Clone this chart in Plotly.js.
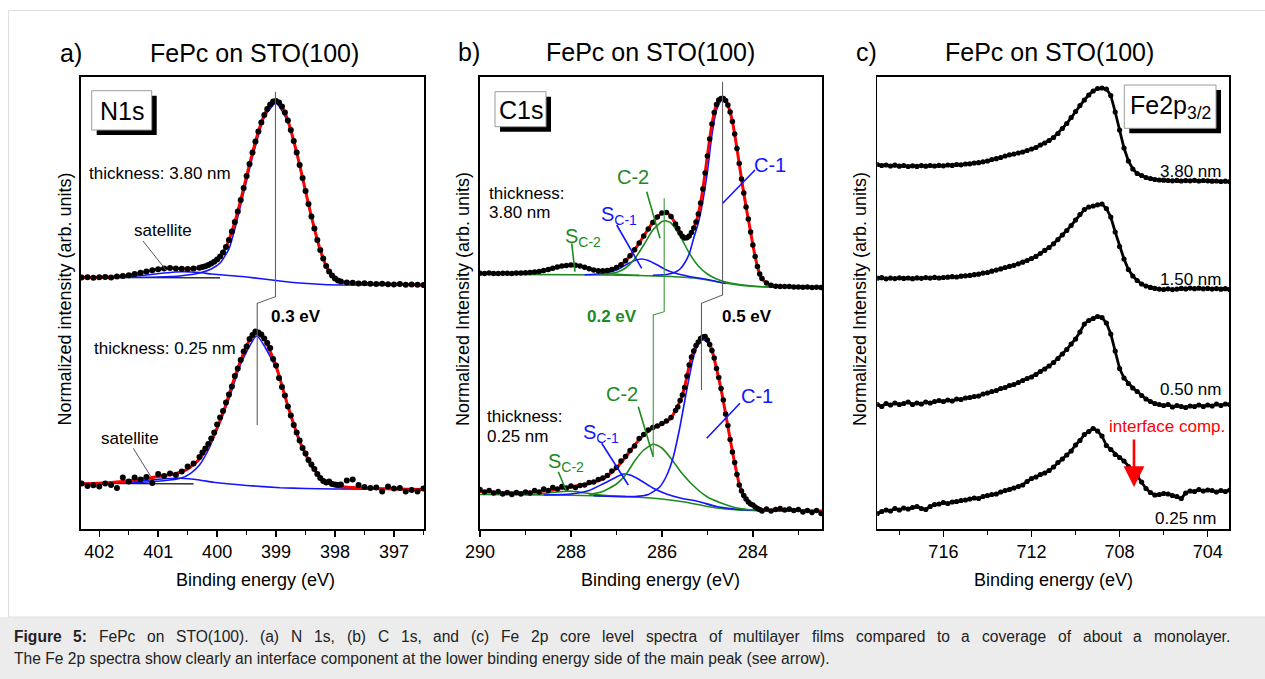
<!DOCTYPE html>
<html><head><meta charset="utf-8">
<script src="https://cdn.plot.ly/plotly-3.0.1.min.js"></script>
<style>html,body{margin:0;padding:0;background:#fff;}#chart{width:1265px;height:679px;}</style>
</head><body><div id="chart"></div>
<script>
// ---------- Panel a: N1s ----------
const xA=[402.3,402.2,402.1,402.0,401.9,401.8,401.7,401.6,401.5,401.4,401.3,401.2,401.1,401.0,400.9,400.8,400.7,400.6,400.5,400.4,400.3,
400.25,400.2,400.15,400.1,400.05,400.0,399.95,399.9,399.85,399.8,399.75,399.7,399.65,399.6,399.55,399.5,399.45,399.4,399.35,399.3,399.25,399.2,399.15,399.1,399.05,399.0,398.95,398.9,398.85,398.8,398.75,398.7,398.65,398.6,398.55,398.5,398.45,398.4,398.35,398.3,398.25,398.2,398.15,398.1,398.05,398.0,397.95,397.9,
397.8,397.7,397.6,397.5,397.4,397.3,397.2,397.1,397.0,396.9,396.8,396.7,396.6,396.5];
const n1s380=[251.5,251.8,251.3,251.7,252.0,251.6,252.4,253.0,253.8,255.0,256.3,257.5,258.8,259.7,260.5,260.9,260.6,260.3,260.1,260.4,261.3,
262.0,262.8,264.0,265.5,267.2,269.5,272.5,276.5,282.0,289.0,297.5,307.0,317.5,329.0,341.0,353.0,365.0,376.5,387.5,397.5,406.5,414.0,420.0,424.5,427.5,428.0,426.5,422.5,416.5,408.5,399.0,388.0,376.5,364.0,351.0,338.0,325.0,312.5,300.5,289.0,279.0,270.5,263.0,257.5,253.5,250.5,248.5,247.5,
246.5,246.2,245.6,245.8,245.2,245.0,245.3,244.8,244.6,244.9,244.3,244.5,244.2,244.0];
const n1s025=[45.5,43.0,43.8,42.5,45.5,44.0,41.0,51.5,47.5,51.5,49.5,52.0,46.0,55.0,53.0,55.5,54.0,57.5,62.5,65.5,72.0,
76.5,80.5,85.0,90.5,96.5,104.5,111.5,118.0,126.5,134.5,142.5,153.0,160.5,169.0,177.5,182.5,190.0,194.0,197.5,196.5,194.5,190.5,186.0,181.0,170.0,163.5,151.0,142.0,133.5,122.5,113.5,104.0,96.5,88.5,81.0,75.5,69.0,64.5,60.0,55.0,51.0,48.0,46.5,47.5,45.0,44.5,44.0,44.5,
48.5,49.5,44.0,42.0,41.0,41.5,37.5,42.5,40.5,41.0,37.5,39.0,37.5,40.5];
const bgA380x=[402.31,399.95], bgA380y=[251.5,251.2];
const satA380x=[402.31,401.6,401.2,400.9,400.6,400.3,400.1,399.8,399.5,399.0,398.6,398.2,397.8,396.49];
const satA380y=[251.5,252,254,256,257.3,256.5,255,253.5,252,248.5,246,244.5,244,244];
const mainA380x=[402.31,401.0,400.6,400.3,400.1,399.95,399.8,399.7,399.6,399.4,399.2,399.0,398.8,398.6,398.4,398.2,398.0,397.8,396.49];
const mainA380y=[251.5,252,253.3,256,260,266,280,300,324,372,412,426,407,363,311,269,249.5,245.5,244];
const bgA025x=[402.31,400.4], bgA025y=[45.5,45.2];
const satA025x=[402.31,401.73,401.3,401.0,400.62,400.3,400.06,399.5,398.93,398.5,398.02,396.49];
const satA025y=[45.5,45.7,48,49.7,50.7,49,46.7,43.5,41.3,40.5,40,39.7];
const mainA025x=[402.31,401.7,400.91,400.62,400.45,400.3,400.15,400.0,399.8,399.6,399.33,399.0,398.6,398.2,397.9,396.49];
const mainA025y=[45.5,45.7,48.3,50.7,55.7,64,79,100,130,165,193,161,87,48,41.5,39.7];
const fitA025x=[402.31,401.8,401.4,401.0,400.7,400.5,400.3,400.1,399.9,399.7,399.5,399.4,399.33,399.2,399.0,398.8,398.6,398.4,398.2,398.0,397.7,397.0,396.49];
const fitA025y=[45,46.5,49,52.5,55.5,60,70,88,116,152,183,193,195.5,190,163,123,88,63,49,43,41.5,40,39.5];
const peakN1s=[399.01,399.32];

// ---------- Panel b: C1s ----------
const xB=[290.0,289.9,289.8,289.7,289.6,289.5,289.4,289.3,289.2,289.1,289.0,288.9,288.8,288.7,288.6,288.5,288.4,288.3,288.2,288.1,288.0,287.9,287.8,287.7,287.6,287.5,287.4,287.3,287.2,287.1,287.0,286.9,286.8,286.7,286.6,286.5,286.4,286.3,286.2,286.1,286.0,285.9,285.8,285.7,
285.65,285.6,285.55,285.5,285.45,285.4,285.35,285.3,285.25,285.2,285.15,285.1,285.05,285.0,284.95,284.9,284.85,284.8,284.75,284.7,284.65,284.6,284.55,284.5,284.45,284.4,284.35,284.3,284.25,284.2,284.15,284.1,284.05,284.0,283.95,283.9,283.85,283.8,
283.7,283.6,283.5,283.4,283.3,283.2,283.1,283.0,282.9,282.8,282.7,282.6,282.5];
const c1s380=[255.7,255.5,255.9,255.6,255.4,255.8,255.7,255.5,255.9,256.0,256.2,256.5,256.9,257.5,258.4,259.5,260.8,262.0,263.0,263.6,263.9,263.8,263.0,261.8,260.3,259.0,258.3,258.2,258.6,259.6,261.5,264.3,268.2,273.2,279.3,286.0,293.0,300.0,306.5,312.0,316.0,316.5,312.5,305.0,
300.5,296.0,292.8,291.0,291.2,293.0,296.5,301.0,307.0,315.0,326.0,340.0,356.0,373.0,390.0,405.0,416.5,424.5,429.0,430.5,430.5,428.5,424.0,417.0,407.5,395.0,380.5,365.5,350.0,336.0,322.0,310.0,297.0,284.0,272.5,262.5,255.0,250.5,
246.0,243.8,242.8,242.6,242.4,242.5,242.0,242.1,241.8,241.9,241.6,241.8,241.5];
const c1s025=[39.5,37.0,38.5,36.0,37.5,35.0,36.5,34.5,36.5,35.0,37.0,36.0,38.5,37.0,40.0,38.5,41.5,40.0,42.5,41.0,43.0,41.5,43.5,44.0,46.5,47.0,49.5,51.0,53.5,58.0,61.5,68.0,72.5,78.5,83.0,90.5,94.5,99.0,101.5,103.0,105.5,108.0,111.5,118.5,
122.0,128.5,134.0,141.5,153.0,164.0,172.0,178.0,183.5,187.0,190.5,192.0,192.5,189.0,184.5,178.5,171.0,160.5,151.5,140.5,129.0,115.0,103.5,89.5,77.0,66.5,54.5,44.0,38.0,33.5,30.0,27.0,25.0,24.0,22.0,20.5,19.5,18.0,
20.0,18.0,19.5,20.5,19.0,20.0,18.5,19.5,17.0,18.5,16.5,18.5,15.5];
const bgB380x=[290.0,288.0,286.5,285.8,285.3,285.0,284.7,284.4,284.1,283.8,283.5,282.48];
const bgB380y=[254.7,254.3,253.5,252.5,251,249,246.5,244.5,243,242.2,241.8,241.6];
const sc2B380x=[289.4,289.0,288.7,288.4,288.2,287.95,287.7,287.4,287.1,286.8,286.5];
const sc2B380y=[254.6,255.3,256.8,259.5,261.8,263,261.5,257.5,255.3,254.2,253.6];
const sc1B380x=[287.7,287.3,287.0,286.8,286.6,286.45,286.3,286.1,285.9,285.7,285.4,285.0,284.6];
const sc1B380y=[254.2,255.5,259,264,268.5,270,268.5,264,259,255.7,252.5,249.5,245.5];
const c2B380x=[287.3,287.0,286.8,286.6,286.4,286.2,286.0,285.93,285.8,285.6,285.4,285.2,285.0,284.8,284.6,284.3,284.0,283.6,282.48];
const c2B380y=[254.5,256.5,261,270,284,299,307.5,308.3,306,293,276,263,255,250,247,244.5,243,242,241.6];
const c1B380x=[286.2,285.9,285.7,285.6,285.5,285.4,285.3,285.2,285.1,285.0,284.9,284.8,284.7,284.65,284.6,284.5,284.4,284.3,284.2,284.1,284.0,283.9,283.8,283.7,283.5,282.48];
const c1B380y=[253.8,254.5,257,260,266,275,291,306,328,357,394,419,428.5,429.5,427.5,416,394,365,336,310,284,262.5,250.5,246,242.8,241.5];
const bgB025x=[290.0,288.5,287.5,286.5,286.0,285.5,285.0,284.6,284.2,283.8,282.48];
const bgB025y=[34.5,34,33.3,31.8,30,27,22.5,20,18.8,18.2,18];
const sc2B025x=[289.0,288.6,288.3,288.1,287.9,287.6,287.2,286.8];
const sc2B025y=[34.3,35.5,37,37.8,37.5,35.5,33.5,32.5];
const sc1B025x=[288.6,288.0,287.6,287.3,287.0,286.85,286.7,286.5,286.2,285.9,285.6,285.2,284.8,284.3,283.8];
const sc1B025y=[34,35,38.5,45,52,55,54,49.5,41,35,31,27.5,22.5,19.5,18.3];
const c2B025x=[287.6,287.3,287.0,286.8,286.6,286.4,286.19,286.0,285.8,285.6,285.3,285.0,284.7,284.4,284.0,283.5,282.48];
const c2B025y=[34.5,37.5,45,54,68,79,85,81,70.5,58,43,32,26,21.5,19,18.3,18];
const c1B025x=[287.5,286.6,286.3,286.05,285.9,285.75,285.6,285.45,285.3,285.2,285.1,285.0,284.9,284.8,284.7,284.6,284.5,284.4,284.3,284.2,284.0,283.8,282.48];
const c1B025y=[33.3,32.5,34.5,42,53,72,103,140,173,185,189.5,187,176.5,159,139,114.5,89.5,65.5,44.5,32.5,23.5,19.5,18];
const fitB025x=[290.0,289.5,289.0,288.5,288.0,287.6,287.3,287.0,286.8,286.6,286.4,286.2,286.0,285.8,285.6,285.5,285.4,285.3,285.2,285.1,285.05,285.0,284.9,284.8,284.7,284.6,284.5,284.4,284.3,284.2,284.0,283.8,283.4,282.48];
const fitB025y=[37.5,36.5,36.5,38.5,42,45.5,50,61,72,84,94,101,105,111,128,142,163,178,187.5,192,192.3,190,179,161,140,115.5,90,66,45,33,23.5,19.5,18.7,18];
const peakC1=[284.667,285.13], peakC2=[285.95,286.19];

// ---------- Panel c: Fe2p3/2 ----------
const xC=[719,718.8,718.6,718.4,718.2,718,717.8,717.6,717.4,717.2,717,716.8,716.6,716.4,716.2,716,715.8,715.6,715.4,715.2,715,714.8,714.6,714.4,714.2,714,713.8,713.6,713.4,713.2,713,712.8,712.6,712.4,712.2,712,711.8,711.6,711.4,711.2,711,710.8,710.6,710.4,710.2,710,709.8,709.6,709.4,709.2,709,708.8,708.6,708.4,708.2,708,707.8,707.6,707.4,707.2,707,706.8,706.6,706.4,706.2,706,705.8,705.6,705.4,705.2,705,704.8,704.6,704.4,704.2,704,703.8,703.6,703.4,703.2,703];
const fe380=[364.5,363.5,364.0,363.0,363.8,362.8,363.5,362.5,363.2,362.6,363.4,362.8,363.5,363.0,363.6,363.2,364.0,363.6,364.5,364.2,365.0,365.2,366.0,366.3,367.2,368.0,369.5,370.3,371.5,373.0,374.2,375.0,376.0,377.0,378.5,380.0,381.5,384.0,386.0,388.5,391.5,395.5,400.5,405.5,411.5,417.5,423.5,429.0,434.0,438.0,440.5,441.0,440.0,433.5,417.0,399.0,381.0,368.0,360.0,355.5,353.5,351.5,350.5,349.5,349.0,348.8,348.5,348.2,348.6,348.0,348.4,348.2,348.7,348.0,348.5,348.2,347.8,348.0,347.5,347.8,347.3];
const fe150=[250.8,251.3,250.2,250.9,250.4,251.2,250.6,251.0,250.3,251.1,250.7,251.4,250.9,251.6,251.0,251.5,251.8,252.3,252.0,252.8,253.2,253.6,254.3,254.8,255.9,256.5,257.8,258.9,260.1,261.5,262.6,263.7,265.2,266.8,268.5,270.5,272.6,275.5,278.6,281.5,285.2,289.4,294.0,298.5,303.5,309.0,314.5,319.5,322.0,323.0,324.2,325.0,320.5,312.0,297.0,282.5,270.0,259.5,253.0,248.5,245.0,243.0,241.6,240.6,239.9,239.5,240.2,239.4,239.9,240.6,240.1,240.9,240.3,240.8,240.2,240.6,239.9,240.4,239.8,240.3,239.6];
const fe050=[124.5,122.5,125.5,124.0,126.0,124.5,125.5,127.0,124.5,126.0,125.0,127.0,126.0,127.5,128.5,127.5,129.0,128.0,130.0,129.5,131.0,131.5,132.5,133.0,135.0,136.0,137.5,138.5,140.5,141.5,143.5,144.5,146.5,148.5,150.5,152.0,154.5,157.5,160.0,163.0,166.5,170.5,175.0,179.5,185.0,190.0,197.0,205.0,208.5,210.5,212.5,211.5,206.0,195.0,178.0,160.5,151.0,145.5,141.0,137.5,133.5,130.0,127.5,125.5,124.5,123.5,124.5,122.0,123.5,122.5,121.5,123.0,122.5,124.0,122.5,124.0,123.0,125.0,123.5,125.0,124.5];
const fe025=[15.5,17.5,19.0,18.0,20.5,19.0,21.0,20.0,21.5,22.5,20.5,19.5,22.5,24.5,25.0,26.5,25.5,27.0,27.5,28.5,29.0,30.0,31.0,30.5,32.5,33.5,34.5,35.0,37.0,38.5,39.5,41.0,42.5,44.0,47.5,50.5,52.0,54.5,56.0,58.5,62.0,66.5,70.0,74.0,78.0,84.0,88.5,94.5,97.5,100.5,98.0,93.0,83.5,79.5,74.5,71.5,68.0,62.5,58.0,53.0,47.0,40.5,36.5,34.0,34.5,35.5,35.0,33.5,32.5,30.5,36.0,38.0,37.5,39.5,38.0,39.0,38.5,37.0,38.5,37.5,39.0];
const feLabels=['3.80 nm','1.50 nm','0.50 nm','0.25 nm'];

// ---------- drawing ----------
const W=1265,H=679;
const X=p=>p/W, Y=p=>1-p/H;
const FONT='Liberation Sans, Arial, Helvetica, sans-serif';
const BLUE='#1414ff', GREEN='#1e8a1e', RED='#ff0000', GRAY='#606060';

function ln(xs,ys,color,width,n){return {x:xs,y:ys,type:'scatter',mode:'lines',line:{color:color,width:width,shape:'spline',smoothing:0.5},xaxis:'x'+n,yaxis:'y'+n,hoverinfo:'skip',showlegend:false};}
function dots(xs,ys,size,n){return {x:xs,y:ys,type:'scatter',mode:'markers',marker:{color:'#000',size:size},xaxis:'x'+n,yaxis:'y'+n,hoverinfo:'skip',showlegend:false};}
function dotline(xs,ys,n){return {x:xs,y:ys,type:'scatter',mode:'lines+markers',line:{color:'#000',width:2.8},marker:{color:'#000',size:5.2},xaxis:'x'+n,yaxis:'y'+n,hoverinfo:'skip',showlegend:false};}

const traces=[
 ln(bgA380x,bgA380y,'#000',1.2,''),ln(satA380x,satA380y,BLUE,1.6,''),ln(mainA380x,mainA380y,BLUE,1.6,''),
 ln(xA,n1s380,RED,3,''),dots(xA,n1s380,6,''),
 ln(bgA025x,bgA025y,'#000',1.2,''),ln(satA025x,satA025y,BLUE,1.6,''),ln(mainA025x,mainA025y,BLUE,1.6,''),
 ln(fitA025x,fitA025y,RED,3,''),dots(xA,n1s025,6,''),
 ln(bgB380x,bgB380y,GREEN,1.6,'2'),ln(sc2B380x,sc2B380y,GREEN,1.6,'2'),ln(sc1B380x,sc1B380y,BLUE,1.6,'2'),
 ln(c2B380x,c2B380y,GREEN,1.6,'2'),ln(c1B380x,c1B380y,BLUE,1.6,'2'),ln(xB,c1s380,RED,3,'2'),dots(xB,c1s380,5.5,'2'),
 ln(bgB025x,bgB025y,GREEN,1.6,'2'),ln(sc2B025x,sc2B025y,GREEN,1.6,'2'),ln(sc1B025x,sc1B025y,BLUE,1.6,'2'),
 ln(c2B025x,c2B025y,GREEN,1.6,'2'),ln(c1B025x,c1B025y,BLUE,1.6,'2'),ln(fitB025x,fitB025y,RED,3,'2'),dots(xB,c1s025,5.5,'2'),
 dotline(xC,fe380,'3'),dotline(xC,fe150,'3'),dotline(xC,fe050,'3'),dotline(xC,fe025,'3')
];
traces.forEach(t=>{if(t.xaxis==='x'){t.xaxis='x';t.yaxis='y';}});

function xax(dom,range,dtick,minor){return {domain:dom,range:range,dtick:dtick,tick0:0,ticks:'outside',ticklen:6,tickwidth:1.5,tickcolor:'#000',
 minor:{dtick:minor,ticks:'outside',ticklen:4,tickwidth:1.3,tickcolor:'#000'},showline:true,mirror:true,linewidth:1.6,linecolor:'#000',
 showgrid:false,zeroline:false,tickfont:{family:FONT,size:18,color:'#000'},fixedrange:true};}
function yax(anchor){return {domain:[Y(529),Y(77)],range:[0,452],anchor:anchor,showticklabels:false,ticks:'',showline:true,mirror:true,linewidth:1.6,linecolor:'#000',showgrid:false,zeroline:false,fixedrange:true};}

function T(text,px,py,size,color,xa,extra){return Object.assign({text:text,x:X(px),y:Y(py),xref:'paper',yref:'paper',showarrow:false,
 font:{family:FONT,size:size,color:color||'#000'},xanchor:xa||'center',yanchor:'middle'},extra||{});}
function L(x0,y0,x1,y1,color,w){return {type:'line',xref:'paper',yref:'paper',x0:X(x0),y0:Y(y0),x1:X(x1),y1:Y(y1),line:{color:color,width:w||1.2}};}
function R(x0,y0,x1,y1,fill,lc,lw){return {type:'rect',xref:'paper',yref:'paper',x0:X(x0),y0:Y(y0),x1:X(x1),y1:Y(y1),fillcolor:fill,line:{color:lc||fill,width:lw||0}};}
function box(x0,y0,x1,y1,off){return [R(x0+off,y0+off,x1+off,y1+off,'#000'),R(x0,y0,x1,y1,'#fff','#9a9a9a',1)];}
function P(xr,yr,pts,color){let d=pts.map((p,i)=>(i?'L':'M')+p[0]+','+p[1]).join(' ');return {type:'path',xref:xr,yref:yr,path:d,line:{color:color,width:1.1}};}

const shapes=[
 R(-2,617,1270,682,'#ececec'),
 {type:'rect',xref:'paper',yref:'paper',x0:X(8.5),y0:Y(617),x1:X(1275),y1:Y(10.5),line:{color:'#dedede',width:1}},
 ...box(91.7,90.7,151.7,130,5),
 ...box(495,91.7,546,126.7,5),
 ...box(1124.3,85,1216,128.3,5),
 P('x','y',[[peakN1s[0],437.3],[peakN1s[0],232.3],[peakN1s[1],225.7],[peakN1s[1],104]],GRAY),
 P('x2','y2',[[peakC1[0],447.3],[peakC1[0],234],[peakC1[1],225.7],[peakC1[1],139]],GRAY),
 P('x2','y2',[[peakC2[0],330.7],[peakC2[0],217.3],[peakC2[1],214],[peakC2[1],74]],'#3c9a3c'),
 L(143,241,166,270,'#555',1), L(133.3,448.3,150.5,476,'#555',1),
 L(646.7,191.7,660,238.3,GREEN,1.6), L(616.7,225,641.7,268.3,BLUE,1.6), L(571.7,243.3,575,271.7,GREEN,1.6), L(755,170,722.7,203.3,BLUE,1.6),
 L(638.3,406.7,653.3,457,GREEN,1.6), L(601.7,443.3,628.3,485,BLUE,1.6), L(558.3,471.7,566.7,491.7,GREEN,1.6), L(740,403.3,706.7,438.3,BLUE,1.6)
];

const ann=[
 T('a)',70.7,52.7,25), T('FePc on STO(100)',254,52.7,25),
 T('b)',469,51.7,25), T('FePc on STO(100)',650,52,25),
 T('c)',866,52,25), T('FePc on STO(100)',1049,52,25),
 T('Normalized intensity (arb. units)',64.5,299,18,'#000','center',{textangle:-90}),
 T('Normalized Intensity (arb. units)',463,299,18,'#000','center',{textangle:-90}),
 T('Normalized Intensity (arb. units)',860,299,18,'#000','center',{textangle:-90}),
 T('Binding energy (eV)',255,580,18), T('Binding energy (eV)',660,580,18), T('Binding energy (eV)',1053.5,580,18),
 T('N1s',121.7,110.8,25),
 T('thickness: 3.80 nm',87.3,174,17,'#000','left'), T('satellite',163.3,230,17),
 T('<b>0.3 eV</b>',295.7,316,17),
 T('thickness: 0.25 nm',91.7,348.3,17,'#000','left'), T('satellite',130,438.3,17),
 T('C1s',520.5,109.7,25),
 T('thickness:',486.7,193.3,17,'#000','left'), T('3.80 nm',486.7,212.7,17,'#000','left'),
 T('C-2',633.3,176.7,20,GREEN), T('S<sub>C-1</sub>',599,215,20,BLUE,'left'), T('S<sub>C-2</sub>',563.3,237,20,GREEN,'left'),
 T('C-1',770,165,20,BLUE),
 T('<b>0.2 eV</b>',612.3,316,17,GREEN), T('<b>0.5 eV</b>',746.7,316,17),
 T('thickness:',485,416,17,'#000','left'), T('0.25 nm',485,436,17,'#000','left'),
 T('C-2',621.7,394,20,GREEN), T('S<sub>C-1</sub>',581,433.5,20,BLUE,'left'), T('S<sub>C-2</sub>',546,462,20,GREEN,'left'),
 T('C-1',756.7,396,20,BLUE),
 T('Fe2p<sub>3/2</sub>',1170,107,25),
 T(feLabels[0],1222.7,171.7,17,'#000','right'), T(feLabels[1],1222.7,279.3,17,'#000','right'),
 T(feLabels[2],1222.7,390,17,'#000','right'), T(feLabels[3],1218.3,518.3,17,'#000','right'),
 T('interface comp.',1166.7,426.7,17,RED),
 {x:X(1134),y:Y(487),xref:'paper',yref:'paper',ax:0,ay:-49,axref:'pixel',ayref:'pixel',showarrow:true,arrowhead:2,arrowsize:1.6,arrowwidth:2.6,arrowcolor:RED,text:''},
 T('The Fe 2p spectra show clearly an interface component at the lower binding energy side of the main peak (see arrow).',12,658,15.6,'#222','left')
];

// caption first line: justified across the figure width (measured with canvas)
(function(){
  const CAP=15.6, x0=12, x1=1228;
  const words=[['Figure',1],['5:',1]].concat('FePc on STO(100). (a) N 1s, (b) C 1s, and (c) Fe 2p core level spectra of multilayer films compared to a coverage of about a monolayer.'.split(' ').map(w=>[w,0]));
  const ctx=document.createElement('canvas').getContext('2d');
  const wid=words.map(([w,b])=>{ctx.font=(b?'bold ':'')+CAP+'px "Liberation Sans", Arial, sans-serif';return ctx.measureText(w).width;});
  const tot=wid.reduce((a,b)=>a+b,0);
  const gap=(x1-x0-tot)/(words.length-1);
  let cx=x0;
  words.forEach(([w,b],i)=>{ann.push(T(b?'<b>'+w+'</b>':w,cx,636,CAP,'#222','left'));cx+=wid[i]+gap;});
})();

const layout={width:W,height:H,margin:{l:0,r:0,t:0,b:0},paper_bgcolor:'#fff',plot_bgcolor:'#fff',showlegend:false,
 font:{family:FONT,color:'#000'},
 xaxis:Object.assign(xax([X(81),X(424)],[402.31,396.49],1,0.5),{anchor:'y'}),
 yaxis:yax('x'),
 xaxis2:Object.assign(xax([X(480),X(822)],[290,282.48],2,1),{anchor:'y2'}),
 yaxis2:yax('x2'),
 xaxis3:Object.assign(xax([X(877.3),X(1229.3)],[719,703.02],4,2),{anchor:'y3'}),
 yaxis3:yax('x3'),
 shapes:shapes,annotations:ann};
Plotly.newPlot('chart',traces,layout,{displayModeBar:false,staticPlot:true});
</script></body></html>
